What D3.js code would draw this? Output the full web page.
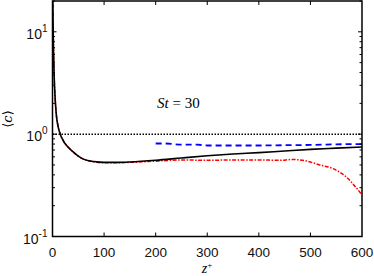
<!DOCTYPE html>
<html><head><meta charset="utf-8">
<script src="https://cdn.jsdelivr.net/npm/d3@7/dist/d3.min.js"></script>
<style>body{margin:0;background:#fff}svg{display:block}</style>
</head><body><svg id="c" width="374" height="276"></svg>
<script>
const blackZ = [0,1,2,3,4,5,6,8,10,12,15,20,25,30,40,50,60,70,80,100,120,150,200,250,300,350,400,450,500,550,600];
const blackC = [40,13,6.5,4.0,2.9,2.3,1.9,1.45,1.25,1.12,1.0,0.88,0.8,0.75,0.67,0.61,0.57,0.55,0.54,0.53,0.53,0.535,0.555,0.585,0.615,0.64,0.66,0.685,0.71,0.73,0.75];
const redZ = [0,1,2,3,4,5,6,8,10,12,15,20,25,30,40,50,60,70,80,100,120,150,200,250,300,350,400,440,465,490,518,544,570,590,600];
const redC = [40,13,6.5,4.0,2.9,2.3,1.9,1.45,1.25,1.12,1.0,0.88,0.8,0.75,0.67,0.61,0.57,0.55,0.535,0.525,0.525,0.53,0.545,0.56,0.555,0.56,0.56,0.555,0.565,0.55,0.50,0.46,0.38,0.295,0.255];
const blueZ = [200,220,250,280,300,350,400,450,500,550,600];
const blueC = [0.81,0.81,0.79,0.79,0.775,0.775,0.775,0.78,0.785,0.795,0.80];
const xTicks = [0,100,200,300,400,500,600];
const yMajor = [0.1,1,10];
const yExp = ["-1","0","1"];

const svg = d3.select("#c");
const L=52.5, R=362, T=1, B=236.5;
const x = d3.scaleLinear().domain([0,600]).range([L,R]);
const y = d3.scaleLog().domain([0.1,20]).range([B,T]);

svg.append("clipPath").attr("id","cp").append("rect").attr("x",L).attr("y",T).attr("width",R-L).attr("height",B-T);

const g = svg.append("g");
g.append("line").attr("x1",L).attr("x2",R).attr("y1",y(1)).attr("y2",y(1))
 .attr("stroke","#000").attr("stroke-width",1.5).attr("stroke-dasharray","1.5,1.5");

const line = d3.line().x(d=>x(d[0])).y(d=>y(d[1])).curve(d3.curveMonotoneX);
const cg = g.append("g").attr("clip-path","url(#cp)");
cg.append("path").datum(redZ.map((z,i)=>[z,redC[i]])).attr("d",line)
 .attr("fill","none").attr("stroke","#ff0000").attr("stroke-width",1.5).attr("stroke-dasharray","4,1.5,1.5,1.5");
cg.append("path").datum(blackZ.map((z,i)=>[z,blackC[i]])).attr("d",line)
 .attr("fill","none").attr("stroke","#000").attr("stroke-width",1.6);
cg.append("path").datum(blueZ.map((z,i)=>[z,blueC[i]])).attr("d",line)
 .attr("fill","none").attr("stroke","#0000ff").attr("stroke-width",1.8).attr("stroke-dasharray","6,4");

const minor = [];
[0.1,1,10].forEach(d=>{for(let k=2;k<=9;k++){const v=d*k; if(v<=20) minor.push(v);}});
const ax = g.append("g").attr("stroke","#000").attr("stroke-width",1);
xTicks.slice(1,-1).forEach(t=>{
  ax.append("line").attr("x1",x(t)).attr("x2",x(t)).attr("y1",B).attr("y2",B-4);
  ax.append("line").attr("x1",x(t)).attr("x2",x(t)).attr("y1",T).attr("y2",T+4);
});
yMajor.forEach(t=>{
  ax.append("line").attr("x1",L).attr("x2",L+4).attr("y1",y(t)).attr("y2",y(t));
  ax.append("line").attr("x1",R).attr("x2",R-4).attr("y1",y(t)).attr("y2",y(t));
});
minor.forEach(t=>{
  ax.append("line").attr("x1",L).attr("x2",L+2.5).attr("y1",y(t)).attr("y2",y(t));
  ax.append("line").attr("x1",R).attr("x2",R-2.5).attr("y1",y(t)).attr("y2",y(t));
});
g.append("rect").attr("x",L).attr("y",T).attr("width",R-L).attr("height",B-T)
 .attr("fill","none").attr("stroke","#000").attr("stroke-width",1.5);

const font = "Liberation Sans, Arial, sans-serif";
xTicks.forEach(t=>{
  g.append("text").attr("x",x(t)).attr("y",257).attr("text-anchor","middle")
   .attr("font-family",font).attr("font-size",13.5).attr("fill","#111").text(t);
});
yMajor.forEach((t,i)=>{
  const tx = g.append("text").attr("x",L-5).attr("y",y(t)+7).attr("text-anchor","end")
   .attr("font-family",font).attr("font-size",14).attr("fill","#111");
  tx.append("tspan").text("10");
  tx.append("tspan").attr("dy",-7).attr("font-size",10).text(yExp[i]);
});
const xl = g.append("text").attr("x",207).attr("y",273).attr("text-anchor","middle")
 .attr("font-family","Liberation Serif, serif").attr("font-size",14);
xl.append("tspan").attr("font-style","italic").text("z");
xl.append("tspan").attr("dy",-5).attr("font-size",9).text("+");
g.append("text").attr("transform","translate(12,119) rotate(-90)").attr("text-anchor","middle")
 .attr("font-family","DejaVu Serif, serif").attr("font-size",13)
 .html('⟨<tspan font-style="italic">c</tspan>⟩');
const an = g.append("text").attr("x",157).attr("y",108)
 .attr("font-family","Liberation Serif, serif").attr("font-size",15);
an.append("tspan").attr("font-style","italic").text("St");
an.append("tspan").text(" = 30");
</script></body></html>
